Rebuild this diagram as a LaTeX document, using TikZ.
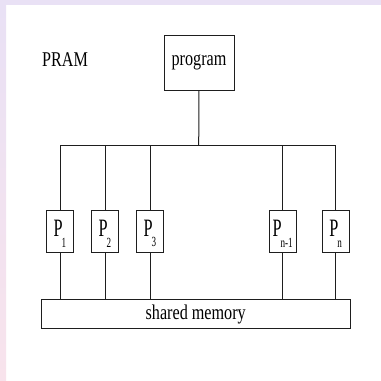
\documentclass[tikz,border=0pt]{standalone}
\usepackage{fontspec}
\setmainfont{Liberation Serif}[FakeStretch=0.77]
\newfontfamily\narrowserif{Liberation Serif}[FakeStretch=0.65]
\usepackage{tikz}
\usetikzlibrary{calc,positioning}
\definecolor{lavender}{RGB}{233,225,245}
\definecolor{blush}{RGB}{248,227,236}
\definecolor{wire}{RGB}{30,30,30}
\tikzstyle{labeltext} = [font=\fontsize{21}{23}\selectfont, inner sep=0]
\tikzstyle{progbox}   = [rectangle, minimum width=70pt, minimum height=55pt, text centered, draw=wire, line width=1pt, labeltext]
\tikzstyle{procbox}   = [rectangle, minimum width=27pt, minimum height=42pt, inner sep=0, text centered, draw=wire, line width=1pt, font=\narrowserif\fontsize{25}{26}\selectfont]
\tikzstyle{membox}    = [rectangle, minimum width=308.7pt, minimum height=28.7pt, text centered, draw=wire, line width=1pt, labeltext]
\tikzstyle{wireline}  = [wire, line width=1pt]
\newcommand\procname[1]{\rule{0pt}{21pt}P\kern-1pt\raisebox{-10.5pt}{\fontsize{14}{15}\selectfont #1}}

\begin{document}
\begin{tikzpicture}[x=1pt, y=-1pt, node distance=17pt]
        \useasboundingbox (0,0) rectangle (381,381);
        \fill[white] (0,0) rectangle (381,381);
        \fill[lavender] (0,0) rectangle (381,5);
        \shade[top color=lavender, bottom color=blush] (0,5) rectangle (6,381);

        \node (pram) [labeltext, anchor=base west] at (42,66) {PRAM};
        \node (prog) [progbox] at (199,62.5) {program};
        \coordinate (bus) at (198.7,145.7);

        \node (p1) [procbox] at (60,231.3) {\procname{1}};
        \node (p2) [procbox, right=of p1] {\procname{2}};
        \node (p3) [procbox, right=of p2] {\procname{3}};
        \node (pm) [procbox, right=104.6pt of p3] {\procname{n-1}};
        \node (pn) [procbox, right=25pt of pm] {\procname{n}};
        \node (mem) [membox] at (195.7,314.3) {shared memory};

        \draw [wireline] (prog.south) -- (bus);
        \draw [wireline] (p1 |- bus) -- (pn |- bus);
        \foreach \p in {p1,p2,p3,pm,pn} {
            \draw [wireline] (\p.north) -- (\p |- bus);
            \draw [wireline] (\p.south) -- (\p |- mem.north);
        }
    \end{tikzpicture}
\end{document}
